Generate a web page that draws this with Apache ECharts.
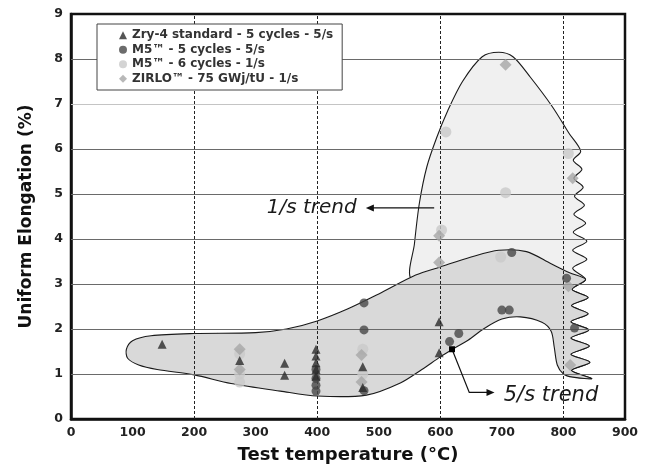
<!DOCTYPE html>
<html><head><meta charset="utf-8">
<script src="https://cdn.jsdelivr.net/npm/echarts@6/dist/echarts.min.js"></script>
<style>html,body{margin:0;padding:0;background:#fff}#c{width:649px;height:470px}</style>
</head><body><div id="c"></div>
<script>
// ---------- data ----------
const legendNames = ['Zry-4 standard - 5 cycles - 5/s', 'M5\u2122 - 5 cycles - 5/s', 'M5\u2122 - 6 cycles - 1/s', 'ZIRLO\u2122 - 75 GWj/tU - 1/s'];
const zry4 = [[148,1.66],[274,1.3],[347,1.24],[347,0.97],[398,1.55],[398,1.4],[398,1.25],[398,1.1],[398,0.95],[474,1.16],[474,0.7],[598,2.16],[598,1.47]];
const m5Cycles5 = [[398,1.1],[398,0.9],[398,0.75],[398,0.62],[476,2.58],[476,1.98],[476,0.63],[615,1.72],[630,1.9],[700,2.42],[712,2.42],[716,3.7],[805,3.13],[818,2.02]];
const m5Cycles6 = [[274,1.45],[274,1.0],[274,0.82],[474,1.55],[474,1.0],[602,4.2],[609,6.38],[698,3.6],[706,5.03],[808,5.9]];
const zirlo = [[274,1.55],[274,1.1],[472,1.42],[472,0.82],[598,4.07],[598,3.48],[706,7.87],[815,5.35],[808,2.95],[811,1.2]];
// trend envelopes (outline points, data coordinates)
const wiggle = [[828,5.95],[816,5.75],[830,5.55],[817,5.35],[832,5.15],[818,4.95],[834,4.75],[817,4.55],[836,4.35],[816,4.15],[838,3.95],[815,3.75],[838,3.55],[815,3.35],[836,3.1],[814,2.88],[840,2.7],[813,2.52],[840,2.34],[812,2.16],[841,1.98],[812,1.8],[842,1.62],[812,1.44],[843,1.26],[813,1.08],[846,0.9]];
const trend5Top = [[90,1.55],[100,1.74],[130,1.85],[200,1.9],[300,1.92],[350,2.0],[400,2.18],[450,2.45],[500,2.78],[560,3.2],[600,3.38],[650,3.6],[695,3.75],[740,3.72],[780,3.45],[810,3.25]];
const trend5Bottom = [[815,0.93],[800,1.0],[790,1.2],[785,1.6],[780,1.95],[765,2.15],[730,2.27],[700,2.22],[670,2.0],[645,1.75],[620,1.55],[600,1.38],[570,1.1],[535,0.8],[480,0.53],[400,0.51],[340,0.62],[260,0.79],[200,0.98],[140,1.1],[110,1.2],[92,1.35]];
const trend1Left = [[553,3.1],[558,3.9],[566,4.8],[578,5.6],[594,6.25],[612,6.85],[636,7.5],[668,8.05],[695,8.15],[718,8.05],[746,7.6],[782,6.94],[809,6.35]];
const trend1Bottom = [[815,0.95],[800,1.1],[796,1.5],[795,2.1],[760,2.6],[700,2.75],[620,2.95]];
const hGrid = [1,2,3,4,5,6,7,8];
const vGrid = [200,400,600,800];
// annotations
const ann1 = {text:'1/s trend', at:[318,4.69], arrowFrom:[590,4.69], arrowTo:[479,4.69]};
const ann5 = {text:'5/s trend', at:[703,0.53], dot:[619,1.55], bend:[647,0.59], arrowTo:[688,0.59]};

const trend5 = trend5Top.concat(wiggle.filter(p => p[1] <= 3.1), trend5Bottom);
const trend1 = trend1Left.concat(wiggle, trend1Bottom);

function polySeries(name, points, fill, z) {
  return {
    type:'custom', name:name, coordinateSystem:'cartesian2d', silent:true, z:z,
    data:[[0,0]],
    renderItem:(params, api) => ({
      type:'polygon',
      shape:{points: points.map(p => api.coord(p)), smooth:0.3},
      style:{fill:fill, stroke:'#1a1a1a', lineWidth:1.1}
    })
  };
}

const wide = '"DejaVu Sans", sans-serif';
const chart = echarts.init(document.getElementById('c'), null, {renderer:'canvas'});
chart.setOption({
  animation:false,
  backgroundColor:'#fff',
  grid:{left:71, right:24, top:14, bottom:51, show:true, borderColor:'#111', borderWidth:2.5, backgroundColor:'transparent'},
  xAxis:{type:'value', min:0, max:900, interval:100,
    name:'Test temperature (\u00b0C)', nameLocation:'middle', nameGap:27,
    nameTextStyle:{fontFamily:wide, fontWeight:'bold', fontSize:18, color:'#111'},
    axisLine:{lineStyle:{color:'#111', width:2.5}}, axisTick:{show:false},
    axisLabel:{fontFamily:wide, fontWeight:'bold', fontSize:12.5, color:'#222', margin:7},
    splitLine:{show:false}},
  yAxis:{type:'value', min:0, max:9, interval:1,
    name:'Uniform Elongation (%)', nameLocation:'middle', nameGap:36, nameRotate:90,
    nameTextStyle:{fontFamily:wide, fontWeight:'bold', fontSize:17, color:'#111'},
    axisLine:{lineStyle:{color:'#111', width:2.5}}, axisTick:{show:false},
    axisLabel:{fontFamily:wide, fontWeight:'bold', fontSize:12.5, color:'#222', margin:8},
    splitLine:{show:false}},
  legend:{orient:'vertical', left:97, top:24, itemWidth:8, itemHeight:8, itemGap:0,
    padding:[4,9,4,22], backgroundColor:'#fff', borderColor:'#444', borderWidth:1, z:10,
    textStyle:{fontFamily:wide, fontWeight:'bold', fontSize:12, lineHeight:14.5, color:'#333'},
    data:legendNames, selectedMode:false},
  series:[
    polySeries('trend1', trend1, '#f0f0f0', 1),
    polySeries('trend5', trend5, '#d9d9d9', 1),
    {type:'line', name:'grid', data:[], silent:true, z:2,
      markLine:{silent:true, z:2, symbol:'none', label:{show:false}, animation:false,
        data: hGrid.map(v => ({yAxis:v, lineStyle:{color: v===7 ? '#c4c4c4' : '#6a6a6a', width:1, type:'solid'}}))
          .concat(vGrid.map(v => ({xAxis:v, lineStyle:{color:'#222', width:1, type:[3,2]}})))}},
    {type:'scatter', name:legendNames[2], data:m5Cycles6, symbol:'circle', symbolSize:11, itemStyle:{color:'#c9c9c9'}, z:3},
    {type:'scatter', name:legendNames[3], data:zirlo, symbol:'diamond', symbolSize:12, itemStyle:{color:'#a6a6a6'}, z:3},
    {type:'scatter', name:legendNames[1], data:m5Cycles5, symbol:'circle', symbolSize:9, itemStyle:{color:'#474747'}, z:3},
    {type:'scatter', name:legendNames[0], data:zry4, symbol:'triangle', symbolSize:9, itemStyle:{color:'#2b2b2b'}, z:3},
    {type:'custom', name:'annotations', coordinateSystem:'cartesian2d', silent:true, z:4, data:[[0,0]],
      renderItem:(params, api) => {
        const t1 = api.coord(ann1.at), f1 = api.coord(ann1.arrowFrom), e1 = api.coord(ann1.arrowTo);
        const t5 = api.coord(ann5.at), d5 = api.coord(ann5.dot), b5 = api.coord(ann5.bend), e5 = api.coord(ann5.arrowTo);
        return {type:'group', children:[
          {type:'line', shape:{x1:f1[0], y1:f1[1], x2:e1[0]+6, y2:e1[1]}, style:{stroke:'#111', lineWidth:1.2}},
          {type:'polygon', shape:{points:[[e1[0],e1[1]],[e1[0]+8,e1[1]-3.5],[e1[0]+8,e1[1]+3.5]]}, style:{fill:'#111'}},
          {type:'text', style:{text:ann1.text, x:t1[0], y:t1[1], font:'italic 20px ' + wide, fill:'#1a1a1a', align:'left', verticalAlign:'middle'}},
          {type:'polyline', shape:{points:[d5, b5, [e5[0]-6, e5[1]]]}, style:{stroke:'#111', lineWidth:1.2, fill:null}},
          {type:'rect', shape:{x:d5[0]-3, y:d5[1]-3, width:6, height:6}, style:{fill:'#000'}},
          {type:'polygon', shape:{points:[[e5[0],e5[1]],[e5[0]-8,e5[1]-3.5],[e5[0]-8,e5[1]+3.5]]}, style:{fill:'#111'}},
          {type:'text', style:{text:ann5.text, x:t5[0], y:t5[1], font:'italic 21px ' + wide, fill:'#1a1a1a', align:'left', verticalAlign:'middle'}}
        ]};
      }}
  ]
});
</script></body></html>
